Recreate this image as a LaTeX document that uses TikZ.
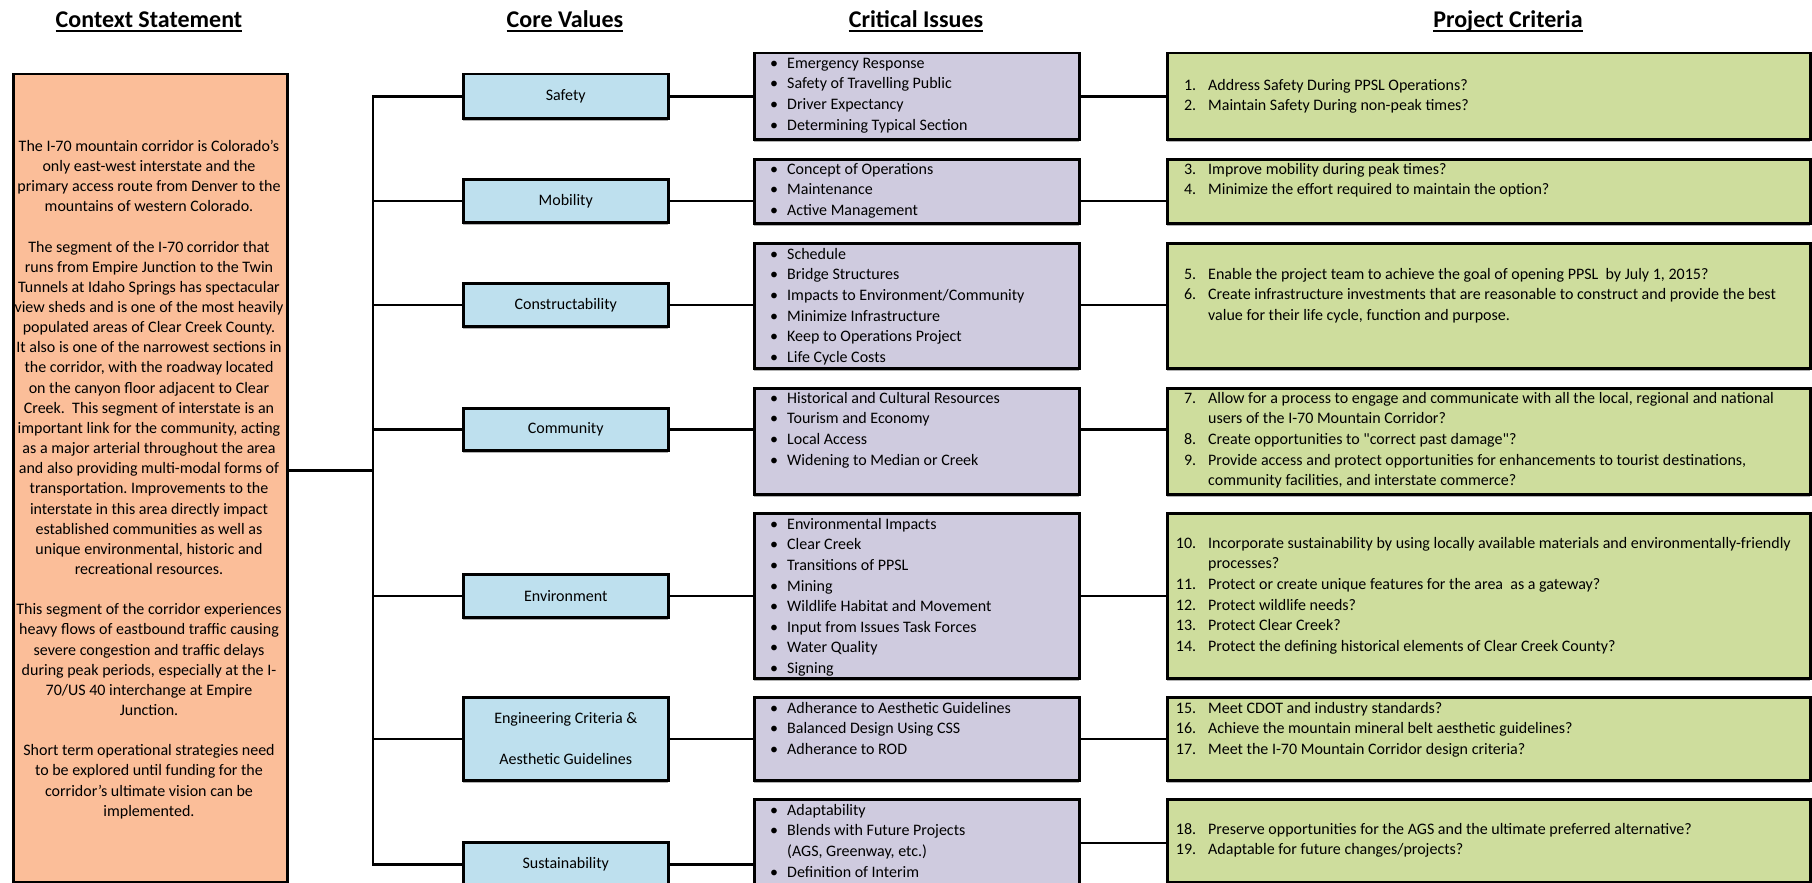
\documentclass[tikz,border=0pt]{standalone}
\usepackage{fontspec}
\setmainfont{Carlito}
\usetikzlibrary{shadows}
\frenchspacing

\definecolor{ctxorange}{RGB}{251,190,153}
\definecolor{coreblue}{RGB}{190,224,238}
\definecolor{issuelilac}{RGB}{207,203,223}
\definecolor{critgreen}{RGB}{206,221,157}

\newcommand{\ciline}[1]{\makebox[17pt][l]{\textbullet}#1}
\newcommand{\critline}[2]{\makebox[30pt][r]{#1.}\hspace{12pt}#2}
\newcommand{\critcont}[1]{\hspace*{42pt}#1}
\newcommand{\dquote}{\XeTeXglyph\XeTeXcharglyph"22\relax}

\tikzset{
  box/.style={draw, line width=2.5pt, inner sep=0pt, anchor=north west,
    drop shadow={shadow xshift=0pt, shadow yshift=-2.5pt, fill=black!30, opacity=1}},
  ctxbox/.style={box, fill=ctxorange, minimum width=274pt},
  corebox/.style={box, fill=coreblue, minimum width=205pt, align=center,
    font=\fontsize{16}{20.5}\selectfont},
  issuebox/.style={box, fill=issuelilac, minimum width=325pt},
  critbox/.style={box, fill=critgreen, minimum width=643pt},
  listtext/.style={anchor=north west, inner sep=0pt, align=left,
    font=\fontsize{16}{20.6}\selectfont},
  heading/.style={anchor=base, inner sep=0pt, font=\fontsize{24}{29}\selectfont\bfseries},
  conn/.style={line width=2.5pt},
}

\begin{document}
\begin{tikzpicture}[x=1pt, y=-1pt]
\useasboundingbox (0,0) rectangle (1812,883);

% column headings
\node[heading] (hdContext) at (149,28) {Context Statement};
\node[heading] (hdCore) at (565,28) {Core Values};
\node[heading] (hdIssues) at (916,28) {Critical Issues};
\node[heading] (hdCrit) at (1508,28) {Project Criteria};
\foreach \h in {hdContext,hdCore,hdIssues,hdCrit}
  \draw [line width=2pt] ([yshift=-3.5pt]\h.base west) -- ([yshift=-3.5pt]\h.base east);

% context statement
\node[ctxbox, minimum height=808pt] (ctx) at (12,73) {};
\node[anchor=north, inner sep=0pt, align=center, font=\fontsize{16}{20.15}\selectfont] (ctxText) at (149,137) {\strut The I-70 mountain corridor is Colorado’s\\
only east-west interstate and the\\
primary access route from Denver to the\\
mountains of western Colorado.\\[20.15pt]
The segment of the I-70 corridor that\\
runs from Empire Junction to the Twin\\
Tunnels at Idaho Springs has spectacular\\
view sheds and is one of the most heavily\\
populated areas of Clear Creek County.\\
It also is one of the narrowest sections in\\
the corridor, with the roadway located\\
on the canyon floor adjacent to Clear\\
Creek.\ \ This segment of interstate is an\\
important link for the community, acting\\
as a major arterial throughout the area\\
and also providing multi-modal forms of\\
transportation. Improvements to the\\
interstate in this area directly impact\\
established communities as well as\\
unique environmental, historic and\\
recreational resources.\\[20.15pt]
This segment of the corridor experiences\\
heavy flows of eastbound traffic causing\\
severe congestion and traffic delays\\
during peak periods, especially at the I-\\
70/US 40 interchange at Empire\\
Junction.\\[20.15pt]
Short term operational strategies need\\
to be explored until funding for the\\
corridor’s ultimate vision can be\\
implemented.};

% core values
\node[corebox, minimum height=44pt] (safety) at (462,73) {Safety};
\node[corebox, minimum height=43pt] (mobility) at (462,178) {Mobility};
\node[corebox, minimum height=43pt] (construct) at (462,282) {Constructability};
\node[corebox, minimum height=42pt] (community) at (462,407) {Community};
\node[corebox, minimum height=43pt] (environ) at (462,573) {Environment};
\node[corebox, minimum height=83pt] (engineer) at (462,696) {Engineering Criteria \&\\[20.5pt]Aesthetic Guidelines};
\node[corebox, minimum height=44pt] (sustain) at (462,841) {Sustainability};

% critical issues
\node[issuebox, minimum height=86pt] (ciSafety) at (753,52) {};
\node[issuebox, minimum height=64pt] (ciMobility) at (753,158) {};
\node[issuebox, minimum height=125pt] (ciConstruct) at (753,242) {};
\node[issuebox, minimum height=106pt] (ciCommunity) at (753,387) {};
\node[issuebox, minimum height=165pt] (ciEnviron) at (753,512) {};
\node[issuebox, minimum height=83pt] (ciEngineer) at (753,696) {};
\node[issuebox, minimum height=87pt] (ciSust) at (753,798) {};

\node[listtext] (ciSafetyText) at (770,53.6) {\strut\ciline{Emergency Response}\\
\ciline{Safety of Travelling Public}\\ \ciline{Driver Expectancy}\\ \ciline{Determining Typical Section}};
\node[listtext] (ciMobilityText) at (770,159.6) {\strut\ciline{Concept of Operations}\\
\ciline{Maintenance}\\ \ciline{Active Management}};
\node[listtext] (ciConstructText) at (770,244.6) {\strut\ciline{Schedule}\\
\ciline{Bridge Structures}\\ \ciline{Impacts to Environment/Community}\\
\ciline{Minimize Infrastructure}\\ \ciline{Keep to Operations Project}\\ \ciline{Life Cycle Costs}};
\node[listtext] (ciCommunityText) at (770,388.6) {\strut\ciline{Historical and Cultural Resources}\\
\ciline{Tourism and Economy}\\ \ciline{Local Access}\\ \ciline{Widening to Median or Creek}};
\node[listtext] (ciEnvironText) at (770,514.6) {\strut\ciline{Environmental Impacts}\\
\ciline{Clear Creek}\\ \ciline{Transitions of PPSL}\\ \ciline{Mining}\\
\ciline{Wildlife Habitat and Movement}\\ \ciline{Input from Issues Task Forces}\\
\ciline{Water Quality}\\ \ciline{Signing}};
\node[listtext] (ciEngineerText) at (770,698.6) {\strut\ciline{Adherance to Aesthetic Guidelines}\\
\ciline{Balanced Design Using CSS}\\ \ciline{Adherance to ROD}};
\node[listtext] (ciSustText) at (770,800.6) {\strut\ciline{Adaptability}\\
\ciline{Blends with Future Projects}\\ \hspace*{17pt}(AGS, Greenway, etc.)\\ \ciline{Definition of Interim}};

% project criteria
\node[critbox, minimum height=86pt] (critSafety) at (1166,52) {};
\node[critbox, minimum height=64pt] (critMobility) at (1166,158) {};
\node[critbox, minimum height=125pt] (critConstruct) at (1166,242) {};
\node[critbox, minimum height=106pt] (critCommunity) at (1166,387) {};
\node[critbox, minimum height=165pt] (critEnviron) at (1166,512) {};
\node[critbox, minimum height=83pt] (critEngineer) at (1166,696) {};
\node[critbox, minimum height=83pt] (critSust) at (1166,798) {};

\node[listtext] (critSafetyText) at (1166,75.6) {\strut\critline{1}{Address Safety During PPSL Operations?}\\
\critline{2}{Maintain Safety During non-peak times?}};
\node[listtext] (critMobilityText) at (1166,159.6) {\strut\critline{3}{Improve mobility during peak times?}\\
\critline{4}{Minimize the effort required to maintain the option?}};
\node[listtext] (critConstructText) at (1166,264.6) {\strut\critline{5}{Enable the project team to achieve the goal of opening PPSL\ \ by July 1, 2015?}\\
\critline{6}{Create infrastructure investments that are reasonable to construct and provide the best}\\
\critcont{value for their life cycle, function and purpose.}};
\node[listtext] (critCommunityText) at (1166,388.6) {\strut\critline{7}{Allow for a process to engage and communicate with all the local, regional and national}\\
\critcont{users of the I-70 Mountain Corridor?}\\
\critline{8}{Create opportunities to \dquote correct past damage\dquote?}\\
\critline{9}{Provide access and protect opportunities for enhancements to tourist destinations,}\\
\critcont{community facilities, and interstate commerce?}};
\node[listtext] (critEnvironText) at (1166,533.6) {\strut\critline{10}{Incorporate sustainability by using locally available materials and environmentally-friendly}\\
\critcont{processes?}\\
\critline{11}{Protect or create unique features for the area\ \ as a gateway?}\\
\critline{12}{Protect wildlife needs?}\\
\critline{13}{Protect Clear Creek?}\\
\critline{14}{Protect the defining historical elements of Clear Creek County?}};
\node[listtext] (critEngineerText) at (1166,698.6) {\strut\critline{15}{Meet CDOT and industry standards?}\\
\critline{16}{Achieve the mountain mineral belt aesthetic guidelines?}\\
\critline{17}{Meet the I-70 Mountain Corridor design criteria?}};
\node[listtext] (critSustText) at (1166,819.6) {\strut\critline{18}{Preserve opportunities for the AGS and the ultimate preferred alternative?}\\
\critline{19}{Adaptable for future changes/projects?}};

% connectors
\coordinate (trunk) at (373,0);
\draw[conn] (safety.west) -| (trunk |- sustain.west) -- (sustain.west);
\foreach \n in {mobility,construct,community,environ,engineer}
  \draw[conn] (\n.west) -- (\n.west -| trunk);
\draw[conn] ([yshift=8pt]ctx.east) -- ([yshift=8pt]ctx.east -| trunk);

\foreach \c/\i/\k in {safety/ciSafety/critSafety, mobility/ciMobility/critMobility,
    construct/ciConstruct/critConstruct, community/ciCommunity/critCommunity,
    environ/ciEnviron/critEnviron, engineer/ciEngineer/critEngineer}
  \draw[conn] (\c.east) -- (\c.east -| \i.west) (\c.east -| \i.east) -- (\c.east -| \k.west);
\draw[conn] (sustain.east) -- (sustain.east -| ciSust.west);
\draw[conn] (ciSust.east) -- (ciSust.east -| critSust.west);
\end{tikzpicture}
\end{document}
